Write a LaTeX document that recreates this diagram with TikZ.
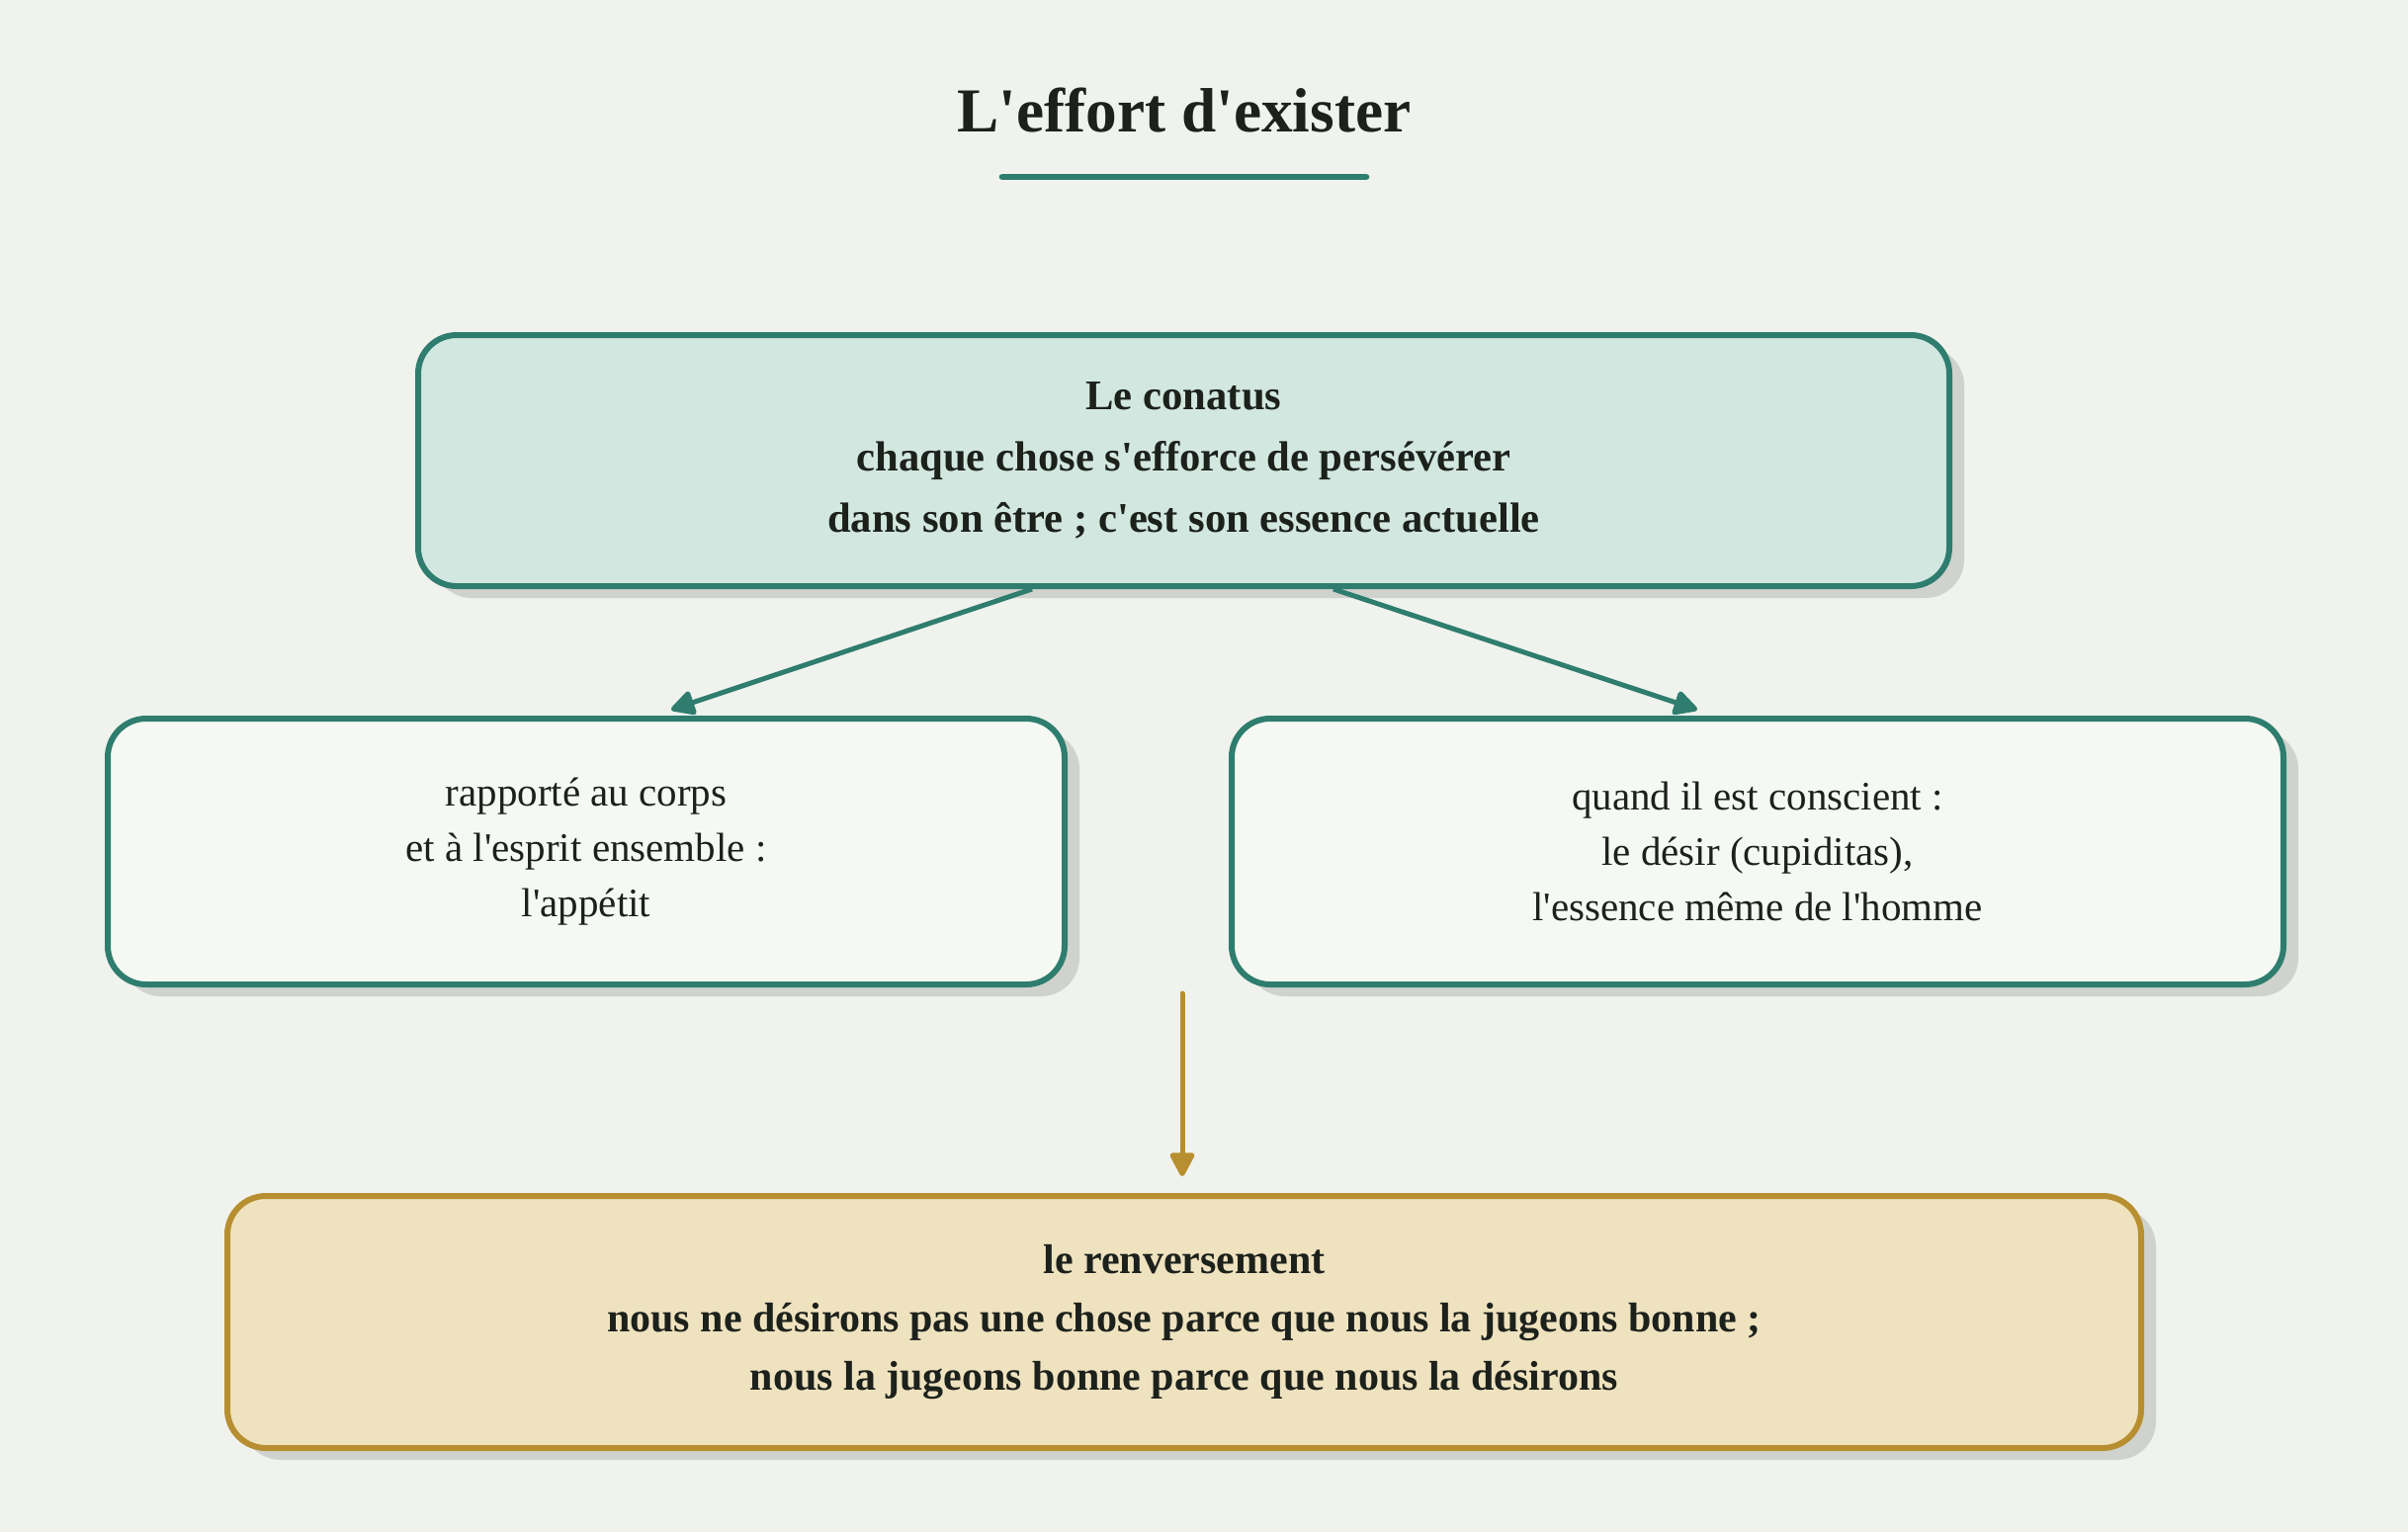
\documentclass[tikz,border=0pt]{standalone}
\usepackage{fontspec}
\setmainfont{Liberation Serif}[Ligatures=TeXOff]
\usepackage{tikz}
\usetikzlibrary{arrows.meta,positioning,calc,shadows}
\definecolor{paper}{HTML}{F0F2ED}
\definecolor{ink}{HTML}{1C211C}
\definecolor{tealline}{HTML}{2E7D6E}
\definecolor{teallight}{HTML}{D2E7E0}
\definecolor{palegreen}{HTML}{F6F9F3}
\definecolor{goldline}{HTML}{B88F30}
\definecolor{goldlight}{HTML}{EFE2BF}
\definecolor{shadowgrey}{HTML}{D0D2CE}
\tikzset{
  boxshadow/.style={drop shadow={shadow xshift=4.5pt,shadow yshift=-3.6pt,fill=shadowgrey,opacity=1}},
  conatusbox/.style={rectangle,rounded corners=11.7pt,draw=tealline,line width=1.8pt,fill=teallight,text=ink,align=center,minimum width=464.7pt,minimum height=76.2pt,font=\fontsize{12.8}{18.6}\selectfont\bfseries,boxshadow},
  sidebox/.style={rectangle,rounded corners=11.7pt,draw=tealline,line width=1.8pt,fill=palegreen,text=ink,align=center,minimum height=80.7pt,font=\fontsize{12.3}{16.8}\selectfont,boxshadow},
  turnbox/.style={rectangle,rounded corners=11.7pt,draw=goldline,line width=1.8pt,fill=goldlight,text=ink,align=center,minimum width=580.8pt,minimum height=76.5pt,font=\fontsize{12.6}{17.7}\selectfont\bfseries,boxshadow},
  titletext/.style={text=ink,font=\fontsize{19}{22}\selectfont\bfseries},
  titlerule/.style={draw=tealline,line width=2pt,line cap=round},
  arrow/.style={-{Triangle[length=8pt,width=8pt,round]},line width=1.5pt,draw=tealline},
  goldarrow/.style={-{Triangle[length=8pt,width=8pt,round]},line width=1.5pt,draw=goldline,line cap=round}
}
\begin{document}
\begin{tikzpicture}[x=0.3pt,y=-0.3pt]
  \fill[paper] (0,0) rectangle (2436,1550);
  \useasboundingbox (0,0) rectangle (2436,1550);

  \node[titletext] (title) at (1198,112) {L'effort d'exister};
  \draw[titlerule] ($(title.center)+(-184,67)$) -- ($(title.center)+(184,67)$);

  \node[conatusbox] (conatus) at (1197.5,466) {Le conatus\\chaque chose s'efforce de persévérer\\dans son être ; c'est son essence actuelle};
  \node[sidebox, minimum width=290.4pt] (appetit) at (593,861.5) {rapporté au corps\\et à l'esprit ensemble :\\l'appétit};
  \node[sidebox, minimum width=319.2pt] (desir) at (1778,861.5) {quand il est conscient :\\le désir (cupiditas),\\l'essence même de l'homme};
  \node[turnbox] (renvers) at (1198,1337.5) {le renversement\\nous ne désirons pas une chose parce que nous la jugeons bonne ;\\nous la jugeons bonne parce que nous la désirons};
  \coordinate (merge) at (1196,1005);

  \draw[arrow] ($(conatus.south)+(-153.5,0)$) -- ($(appetit.north)+(86,-6)$);
  \draw[arrow] ($(conatus.south)+(151.5,0)$) -- ($(desir.north)+(-61,-6)$);
  \draw[goldarrow] (merge) -- ([shift={(0,-17)}]renvers.north -| merge);
\end{tikzpicture}
\end{document}
